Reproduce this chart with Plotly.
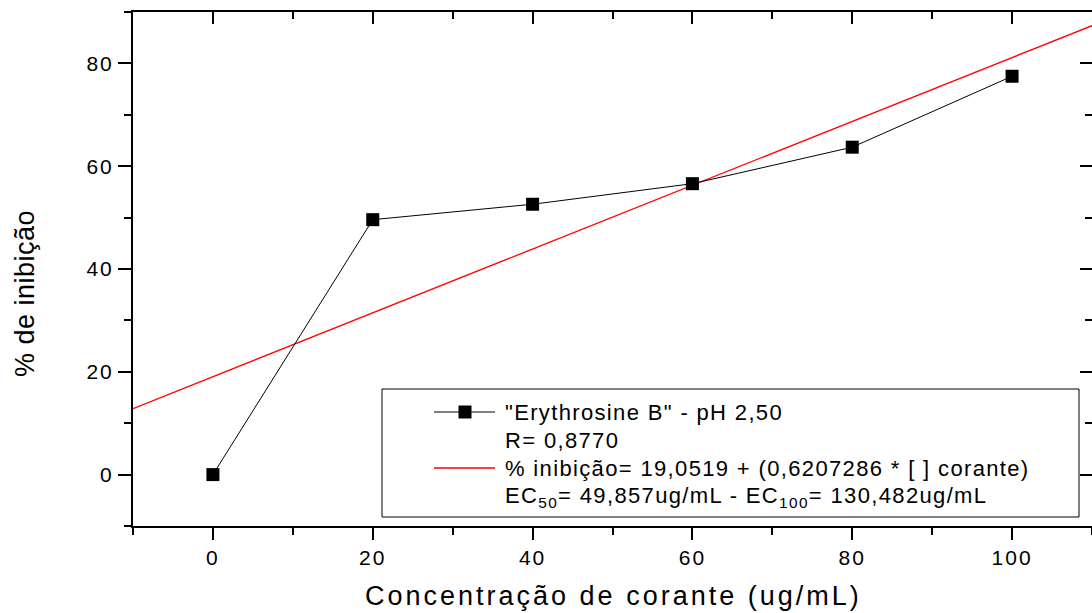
import plotly.graph_objects as go

# ---------------- data ----------------
conc = [0, 20, 40, 60, 80, 100]
inibicao = [0.0, 49.6, 52.6, 56.6, 63.7, 77.5]
fit_intercept = 19.0519
fit_slope = 0.6207286
fit_x = [-10, 110]
fit_y = [fit_intercept + fit_slope * v for v in fit_x]

x_ticks = [0, 20, 40, 60, 80, 100]
x_ticklabels = ["0", "20", "40", "60", "80", "100"]
y_ticks = [0, 20, 40, 60, 80]
y_ticklabels = ["0", "20", "40", "60", "80"]

legend_labels = [
    '"Erythrosine B" - pH 2,50',
    'R= 0,8770',
    '% inibição= 19,0519 + (0,6207286 * [ ] corante)',
    'EC<sub>50</sub>= 49,857ug/mL - EC<sub>100</sub>= 130,482ug/mL',
]
x_title = 'Concentração de corante (ug/mL)'
y_title = '% de inibição'

# ---------------- layout helpers ----------------
W, H = 1092, 613
L, R, T, B = 133, 0, 12, 87   # plot area: x 133..1092, y 12..526
FONT = 'Liberation Sans, Arial, sans-serif'


def px(x):
    """pixel x -> paper coordinate"""
    return (x - L) / (W - L - R)


def py(y):
    """pixel y -> paper coordinate"""
    return (H - B - y) / (H - T - B)


def spaced(text, s):
    return f'<span style="letter-spacing:{s}px">{text}</span>'


fig = go.Figure()

fig.add_trace(go.Scatter(
    x=fit_x, y=fit_y, mode='lines',
    line=dict(color='#ff0000', width=1.3),
    showlegend=False, hoverinfo='skip'))

fig.add_trace(go.Scatter(
    x=conc, y=inibicao, mode='lines+markers',
    line=dict(color='black', width=1),
    marker=dict(symbol='square', size=13, color='black'),
    showlegend=False))

# helper trace for mirrored (inside) ticks on top/right
fig.add_trace(go.Scatter(x=[None], y=[None], xaxis='x2', yaxis='y2',
                         showlegend=False, hoverinfo='skip'))

tickfont = dict(family=FONT, size=21, color='black')
common = dict(showgrid=False, zeroline=False, showline=True,
              linecolor='black', linewidth=2, tickcolor='black', tickwidth=2)

fig.update_layout(
    width=W, height=H,
    margin=dict(l=L, r=R, t=T, b=B),
    paper_bgcolor='white', plot_bgcolor='white',
    font=dict(family=FONT, color='black'),
    showlegend=False,
    xaxis=dict(range=[-10, 110], tickmode='array', tickvals=x_ticks,
               ticktext=[spaced(t, 2) for t in x_ticklabels],
               ticks='outside', ticklen=12, tickfont=tickfont,
               minor=dict(tick0=0, dtick=10, ticks='outside', ticklen=7,
                          tickwidth=2, tickcolor='black', showgrid=False),
               **common),
    yaxis=dict(range=[-10, 90], tickmode='array', tickvals=y_ticks,
               ticktext=[spaced(t, 2) for t in y_ticklabels],
               ticks='outside', ticklen=13, tickfont=tickfont,
               minor=dict(tick0=0, dtick=10, ticks='outside', ticklen=7,
                          tickwidth=2, tickcolor='black', showgrid=False),
               **common),
    xaxis2=dict(range=[-10, 110], overlaying='x', side='top', anchor='y2',
                tickmode='array', tickvals=x_ticks, showticklabels=False,
                ticks='inside', ticklen=12,
                minor=dict(tick0=0, dtick=10, ticks='inside', ticklen=7,
                           tickwidth=2, tickcolor='black', showgrid=False),
                **common),
    yaxis2=dict(range=[-10, 90], overlaying='y', side='right', anchor='x2',
                tickmode='array', tickvals=y_ticks, showticklabels=False,
                ticks='inside', ticklen=12,
                minor=dict(tick0=0, dtick=10, ticks='inside', ticklen=7,
                           tickwidth=2, tickcolor='black', showgrid=False),
                **common),
)

# ---------------- legend box ----------------
shapes = [
    dict(type='rect', xref='paper', yref='paper',
         x0=px(382), x1=px(1079), y0=py(517), y1=py(389),
         line=dict(color='black', width=1), fillcolor='white', layer='above'),
    dict(type='line', xref='paper', yref='paper',
         x0=px(434), x1=px(495), y0=py(412), y1=py(412),
         line=dict(color='black', width=1), layer='above'),
    dict(type='rect', xref='paper', yref='paper',
         x0=px(458.5), x1=px(471.5), y0=py(418.5), y1=py(405.5),
         line=dict(width=0), fillcolor='black', layer='above'),
    dict(type='line', xref='paper', yref='paper',
         x0=px(434), x1=px(495), y0=py(468), y1=py(468),
         line=dict(color='#ff0000', width=1.3), layer='above'),
]
fig.update_layout(shapes=shapes)

row_y = [412, 440, 468, 497]
annotations = []
for lab, yy in zip(legend_labels, row_y):
    annotations.append(dict(
        text=spaced(lab, 1.35), xref='paper', yref='paper',
        x=px(503), y=py(yy), xanchor='left', yanchor='middle',
        showarrow=False, font=dict(family=FONT, size=22, color='black')))

annotations.append(dict(
    text=spaced(x_title, 3), xref='paper', yref='paper',
    x=px(613), y=py(596), xanchor='center', yanchor='middle',
    showarrow=False, font=dict(family=FONT, size=27, color='black')))

annotations.append(dict(
    text=spaced(y_title, 0.5), xref='paper', yref='paper',
    x=px(25), y=py(294), xanchor='center', yanchor='middle', textangle=-90,
    showarrow=False, font=dict(family=FONT, size=27, color='black')))

fig.update_layout(annotations=annotations)

fig.write_html("out.html",
               config={'displayModeBar': False},
               post_script="document.body.style.margin='0px';"
                           "document.body.style.overflow='hidden';")
